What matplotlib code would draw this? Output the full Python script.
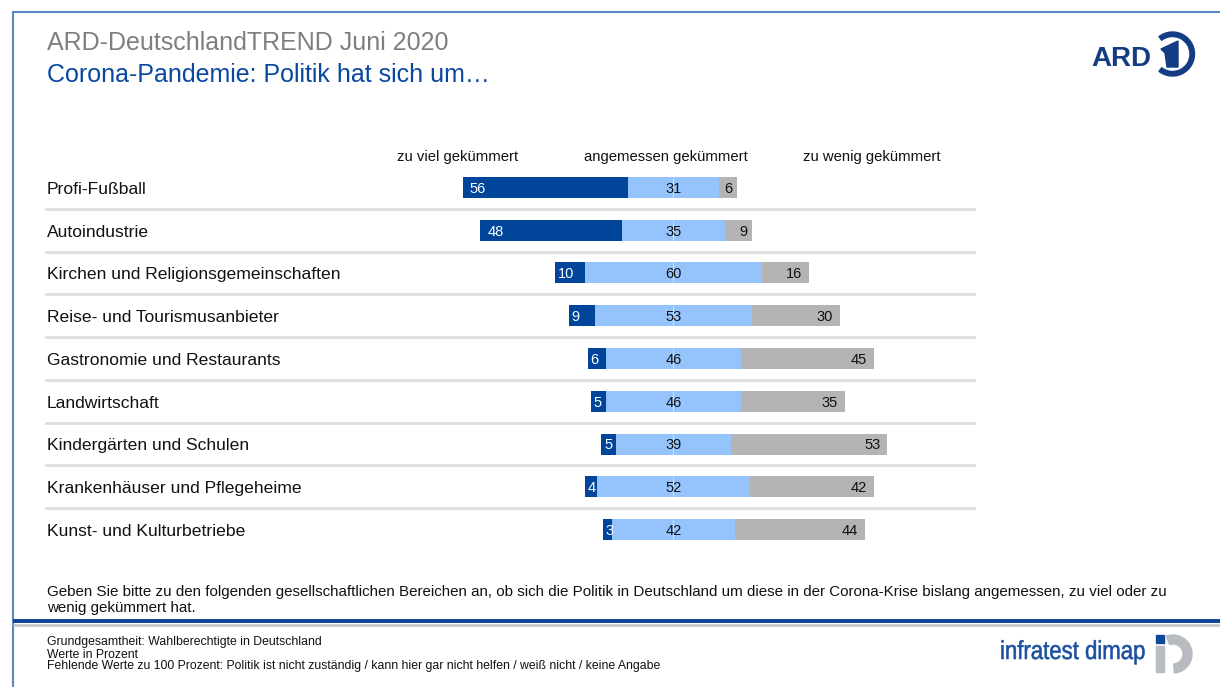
import numpy as np
import matplotlib
matplotlib.use("Agg")
import matplotlib.pyplot as plt
from matplotlib.patches import Wedge, Polygon, Rectangle, PathPatch
from matplotlib.textpath import TextPath
from matplotlib.font_manager import FontProperties
from matplotlib.transforms import blended_transform_factory, Affine2D

plt.rcParams['font.family'] = ['Liberation Sans', 'DejaVu Sans']

# Umfragewerte in Prozent
kategorien = ["Profi-Fußball", "Autoindustrie", "Kirchen und Religionsgemeinschaften",
              "Reise- und Tourismusanbieter", "Gastronomie und Restaurants", "Landwirtschaft",
              "Kindergärten und Schulen", "Krankenhäuser und Pflegeheime", "Kunst- und Kulturbetriebe"]
zu_viel = [56, 48, 10, 9, 6, 5, 5, 4, 3]
angemessen = [31, 35, 60, 53, 46, 46, 39, 52, 42]
zu_wenig = [6, 9, 16, 30, 45, 35, 53, 42, 44]
spalten = ["zu viel gekümmert", "angemessen gekümmert", "zu wenig gekümmert"]

DUNKEL = '#00459a'
HELL = '#94c4fb'
GRAU = '#b4b4b4'

fig = plt.figure(figsize=(12.2, 6.87), dpi=100)

# Rahmen, Titel, Fußnoten in Pixelkoordinaten
deko = fig.add_axes([0, 0, 1, 1])
deko.set_xlim(0, 1220)
deko.set_ylim(687, 0)
deko.axis('off')

deko.plot([12, 1220], [11.5, 11.5], color='#5b87c5', lw=1.5, solid_capstyle='butt')
deko.plot([12.5, 12.5], [11, 687], color='#5b87c5', lw=1.5, solid_capstyle='butt')
deko.plot([13, 1220], [621, 621], color='#0b4597', lw=2.8, solid_capstyle='butt')
deko.plot([13, 1220], [624.5, 624.5], color='#c4c4c4', lw=1.8, solid_capstyle='butt')

deko.text(47, 49.5, "ARD-DeutschlandTREND Juni 2020", fontsize=18, color='#7f7f7f', va='baseline')
deko.text(47, 82, "Corona-Pandemie: Politik hat sich um…", fontsize=18, color='#0a48a0', va='baseline')

for txt, xc in zip(spalten, [458, 666, 872]):
    deko.text(xc, 160.5, txt, fontsize=10.7, color='#111111', ha='center', va='baseline')

deko.text(47, 596, "Geben Sie bitte zu den folgenden gesellschaftlichen Bereichen an, ob sich die Politik "
          "in Deutschland um diese in der Corona-Krise bislang angemessen, zu viel oder zu",
          fontsize=10.9, color='#111111', va='baseline')
deko.text(47, 612, "wenig gekümmert hat.", fontsize=10.9, color='#111111', va='baseline')

fussnoten = ["Grundgesamtheit: Wahlberechtigte in Deutschland", "Werte in Prozent",
             "Fehlende Werte zu 100 Prozent: Politik ist nicht zuständig / kann hier gar nicht helfen / "
             "weiß nicht / keine Angabe"]
for k, txt in enumerate(fussnoten):
    deko.text(47, 645.5 + 12 * k, txt, fontsize=8.8, color='#111111', va='baseline')

# ARD-Logo
deko.text(1091, 66, "ARD", fontsize=20, fontweight='bold', color='#143c82', va='baseline')
deko.add_patch(Wedge((1172.5, 54), 22, -128, 128, width=4.5, color='#143c82'))
deko.add_patch(Polygon([(1161, 49), (1178, 41), (1178, 67), (1167, 67), (1165, 53)],
                       closed=True, color='#143c82'))

# infratest dimap Logo (Schrift schmal gestaucht)
pfad = TextPath((0, 0), "infratest dimap", size=26, prop=FontProperties(family='Liberation Sans'))
breite = pfad.get_extents().width
sx = 143 / breite
pfad = pfad.transformed(Affine2D().scale(sx, -1).translate(1000, 659))
deko.add_patch(PathPatch(pfad, facecolor='#1a4f9f', edgecolor='#1a4f9f', lw=0.4))
deko.add_patch(Rectangle((1156, 635), 8, 8, color='#0d4a9a'))
deko.add_patch(Rectangle((1156, 646), 8, 26, color='#b8bcc0'))
deko.add_patch(Wedge((1173, 654), 19, -110, 86, width=9, color='#b8bcc0'))

# Balkendiagramm, zentriert auf die Mitte von "angemessen"
ax = fig.add_axes([45 / 1220, (687 - 551) / 687, 931 / 1220, 385 / 687])
ax.patch.set_alpha(0)
ax.axis('off')
skala = 2.95
ax.set_xlim((45 - 673.5) / skala, (976 - 673.5) / skala)
n = len(kategorien)
ax.set_ylim(n - 0.5, -0.5)

y = np.arange(n)
v = np.array(zu_viel)
a = np.array(angemessen)
w = np.array(zu_wenig)
links = -a / 2
h = 0.49

for i in range(n - 1):
    ax.axhline(i + 0.5, color='#e0e0e0', lw=2.2)

ax.barh(y, v, left=links - v, height=h, color=DUNKEL, lw=0)
ax.barh(y, a, left=links, height=h, color=HELL, lw=0)
ax.barh(y, w, left=links + a, height=h, color=GRAU, lw=0)
ax.vlines(np.zeros(n), y - h / 2, y + h / 2, color='white', lw=0.6, alpha=0.6)

yb = y + 0.125  # Grundlinie der Zahlen
for i in range(n):
    pad = 5 if v[i] >= 12 else 2
    ax.annotate(str(v[i]), xy=(links[i] - v[i], yb[i]), xytext=(pad, 0), textcoords='offset points',
                ha='left', va='baseline', fontsize=10.5, color='white')
    ax.annotate(str(a[i]), xy=(0, yb[i]), ha='center', va='baseline', fontsize=10.5, color='#111111')
    pad = 5 if w[i] >= 10 else 3
    ax.annotate(str(w[i]), xy=(links[i] + a[i] + w[i], yb[i]), xytext=(-pad, 0),
                textcoords='offset points', ha='right', va='baseline', fontsize=10.5, color='#111111')

lab_trans = blended_transform_factory(ax.transAxes, ax.transData)
for i, cat in enumerate(kategorien):
    ax.text(2 / 931, i + 0.15, cat, transform=lab_trans, fontsize=12.6, color='#111111', va='baseline')

fig.savefig("out.png", dpi=100)
